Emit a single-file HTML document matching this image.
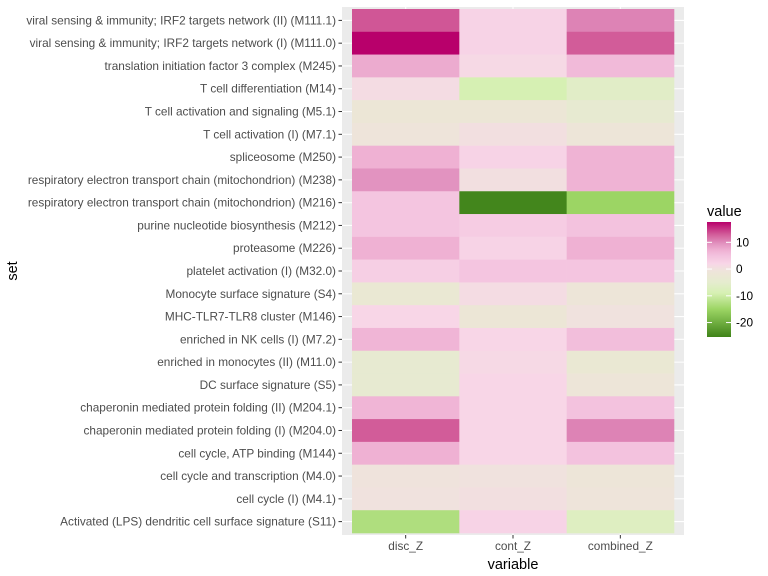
<!DOCTYPE html>
<html><head><meta charset="utf-8"><style>
body{margin:0;background:#fff;}
svg{display:block;font-family:"Liberation Sans",Arial,sans-serif;}
</style></head><body>
<svg id="chart" width="768" height="576"></svg>
<script>
const sets=["viral sensing & immunity; IRF2 targets network (II) (M111.1)","viral sensing & immunity; IRF2 targets network (I) (M111.0)","translation initiation factor 3 complex (M245)","T cell differentiation (M14)","T cell activation and signaling (M5.1)","T cell activation (I) (M7.1)","spliceosome (M250)","respiratory electron transport chain (mitochondrion) (M238)","respiratory electron transport chain (mitochondrion) (M216)","purine nucleotide biosynthesis (M212)","proteasome (M226)","platelet activation (I) (M32.0)","Monocyte surface signature (S4)","MHC-TLR7-TLR8 cluster (M146)","enriched in NK cells (I) (M7.2)","enriched in monocytes (II) (M11.0)","DC surface signature (S5)","chaperonin mediated protein folding (II) (M204.1)","chaperonin mediated protein folding (I) (M204.0)","cell cycle, ATP binding (M144)","cell cycle and transcription (M4.0)","cell cycle (I) (M4.1)","Activated (LPS) dendritic cell surface signature (S11)"];
const variables=["disc_Z","cont_Z","combined_Z"];
const discZ=[13.3,17.6,7.5,1,-2,-1,7,9.5,4.5,4.5,7,3,-3,2,6.5,-4,-4,6.5,13,7,-0.5,0,-13];
const contZ=[2.5,2.5,1.5,-9,-2,0.5,2.5,0.5,-25,3.5,2.5,4.5,1,-2,2,1.5,2,2,2,2,0,0.5,2.5];
const combinedZ=[10.5,13,6,-6,-4,-1.5,6.8,6.8,-15,5,7,4.5,-1.5,0,5.5,-3,-1.5,5,10.5,5,-1.5,-1,-7];
const legendTicks=[10,0,-10,-20];
const vmin=-25.4,vmax=17.6;

const NS="http://www.w3.org/2000/svg";
const svg=document.getElementById('chart');
function el(t,a,p){const e=document.createElementNS(NS,t);for(const k in a)e.setAttribute(k,a[k]);(p||svg).appendChild(e);return e;}
const px0=342,px1=684,py0=7,py1=535;
const tx0=352,tx1=674,ty0=9,ty1=533;
const xu=(tx1-tx0)/3, yu=(ty1-ty0)/23;
const xC=i=>tx0+xu*(0.5+i);
const yC=j=>ty0+yu*(0.5+j);
const stops=[[-25.4,"#3f8319"],[-15,"#9cd564"],[-9,"#d6f0b3"],[-5,"#e5ecce"],[-2,"#ece6d6"],[0,"#f0e2de"],[2,"#f8d6e7"],[5,"#f3c2de"],[7,"#efb1d3"],[9.5,"#e293c0"],[13,"#d25c99"],[17.6,"#b8006b"]];
function hex(h){return [1,3,5].map(i=>parseInt(h.substr(i,2),16));}
function color(v){v=Math.max(vmin,Math.min(vmax,v));
for(let i=1;i<stops.length;i++){if(v<=stops[i][0]){const a=hex(stops[i-1][1]),b=hex(stops[i][1]);const f=(v-stops[i-1][0])/(stops[i][0]-stops[i-1][0]);return "rgb("+a.map((c,k)=>Math.round(c+(b[k]-c)*f)).join(",")+")";}}return stops[stops.length-1][1];}

const panel=el('rect',{x:px0,y:py0,width:px1-px0,height:py1-py0,fill:'#ebebeb'});


variables.forEach((v,i)=>{const g=el('line',{x1:xC(i),x2:xC(i),y1:py0,y2:py1,stroke:'#fff','stroke-width':1.1});
});
sets.forEach((s,j)=>{const g=el('line',{x1:px0,x2:px1,y1:yC(j),y2:yC(j),stroke:'#fff','stroke-width':1.1});
});
const series=[discZ,contZ,combinedZ];
series.forEach((arr,i)=>arr.forEach((v,j)=>{
const r=el('rect',{x:xC(i)-xu/2,y:yC(j)-yu/2,width:xu+0.3,height:yu+0.3,fill:color(v)});


}));
sets.forEach((s,j)=>{
el('line',{x1:px0-3.5,x2:px0,y1:yC(j),y2:yC(j),stroke:'#333','stroke-width':1});
const t=el('text',{x:px0-6,y:yC(j)+4,'text-anchor':'end','font-size':'11.8',fill:'#4d4d4d'});t.textContent=s;


});
variables.forEach((v,i)=>{
el('line',{x1:xC(i),x2:xC(i),y1:py1,y2:py1+3.5,stroke:'#333','stroke-width':1});
const t=el('text',{x:xC(i),y:py1+15,'text-anchor':'middle','font-size':'11.8',fill:'#4d4d4d'});t.textContent=v;


});
const xt=el('text',{x:(px0+px1)/2,y:569,'text-anchor':'middle','font-size':'14.5',fill:'#000'});xt.textContent='variable';

const yt=el('text',{x:0,y:0,'text-anchor':'middle','font-size':'14.5',fill:'#000',transform:'translate(17,271) rotate(-90)'});yt.textContent='set';

// legend
const lt=el('text',{x:707,y:216,'font-size':'14.5',fill:'#000'});lt.textContent='value';

const defs=el('defs',{});
const lg=el('linearGradient',{id:'lg',x1:0,y1:1,x2:0,y2:0},defs);
stops.forEach(s=>el('stop',{offset:(s[0]-vmin)/(vmax-vmin),'stop-color':s[1]},lg));
const lb0=222,lb1=337;
const bar=el('rect',{x:707,y:lb0,width:24,height:lb1-lb0,fill:'url(#lg)'});

const ly=v=>lb1-(v-vmin)/(vmax-vmin)*(lb1-lb0);
legendTicks.forEach(v=>{
el('line',{x1:707,x2:712,y1:ly(v),y2:ly(v),stroke:'#fff','stroke-width':1});
el('line',{x1:726,x2:731,y1:ly(v),y2:ly(v),stroke:'#fff','stroke-width':1});
const t=el('text',{x:736,y:ly(v)+4,'font-size':'11.8',fill:'#000'});t.textContent=v;


});
</script>
</body></html>
